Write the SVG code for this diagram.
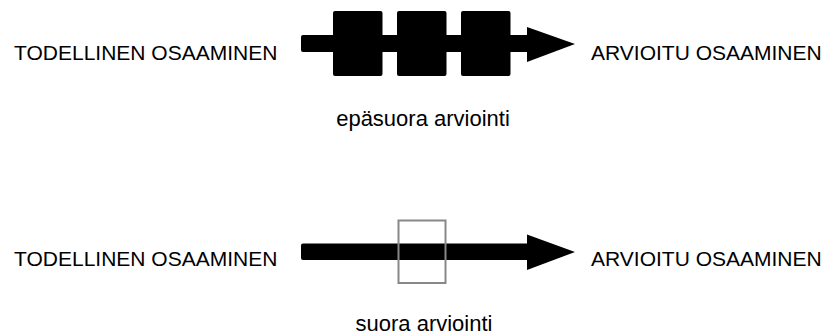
<svg xmlns="http://www.w3.org/2000/svg" width="827" height="336" viewBox="0 0 827 336">
<style>
text{font-family:"Liberation Sans",Arial,sans-serif;font-size:21px;fill:#000}
.blk{fill:#000}
.gbox{fill:none;stroke:#888;stroke-width:2}
</style>
<rect width="827" height="336" fill="#fff"/>
<g id="connectors">
<g id="arrow-indirect">
<rect class="blk" x="301" y="35" width="228" height="17" rx="2"/>
<polygon class="blk" points="527,27 575,44 527,62"/>
</g>
<g id="arrow-direct">
<rect class="blk" x="301" y="243.5" width="228" height="16.5" rx="2"/>
<polygon class="blk" points="527,234.5 575,252 527,270"/>
</g>
</g>
<g id="indirect-boxes">
<rect class="blk" x="333" y="11" width="49.5" height="65" rx="2"/>
<rect class="blk" x="397" y="11" width="49.5" height="65" rx="2"/>
<rect class="blk" x="461" y="11" width="49.5" height="65" rx="2"/>
</g>
<g id="direct-box">
<rect class="gbox" x="398.5" y="220.5" width="47" height="62.5"/>
</g>
<g id="n-todellinen-1"><text x="14" y="60">TODELLINEN OSAAMINEN</text></g>
<g id="n-arvioitu-1"><text x="591" y="60">ARVIOITU OSAAMINEN</text></g>
<g id="n-epasuora"><text x="423" y="126" text-anchor="middle" font-size="22" style="font-size:22px">epäsuora arviointi</text></g>
<g id="n-todellinen-2"><text x="14" y="266">TODELLINEN OSAAMINEN</text></g>
<g id="n-arvioitu-2"><text x="591" y="266">ARVIOITU OSAAMINEN</text></g>
<g id="n-suora"><text x="424" y="331" text-anchor="middle" style="font-size:22px">suora arviointi</text></g>
</svg>
